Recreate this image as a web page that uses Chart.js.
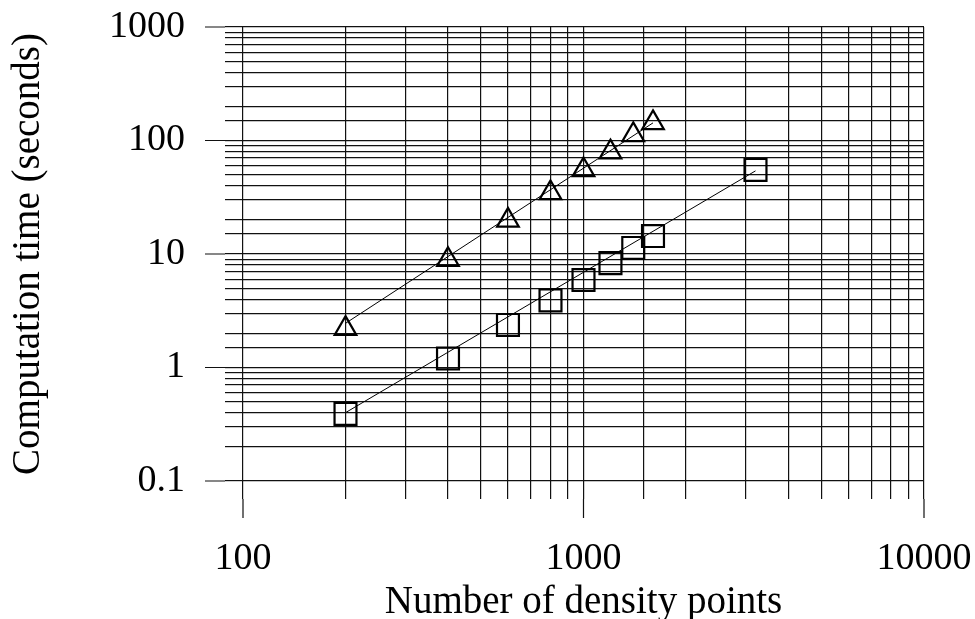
<!DOCTYPE html>
<html>
<head>
<meta charset="utf-8">
<script src="https://cdn.jsdelivr.net/npm/chart.js@4/dist/chart.umd.min.js"></script>
<style>
	body { margin: 0; background: #fff; }
	#wrap { width: 975px; height: 619px; }
</style>
</head>
<body>
<div id="wrap"><canvas id="chart" width="975" height="619"></canvas></div>
<script>
// values
const triangleX = [200, 400, 600, 800, 1000, 1200, 1400, 1600]
const triangleY = [2.2, 8.9, 19.8, 34.5, 55, 79, 112, 143]
const squareX = [200, 400, 600, 800, 1000, 1200, 1400, 1600, 3200]
const squareY = [0.39, 1.2, 2.37, 3.9, 5.9, 8.3, 11.3, 14.4, 55]
// straight fit lines drawn through each set
const triangleFitX = [200, 1600]
const triangleFitY = [2.45, 143]
const squareFitX = [200, 3200]
const squareFitY = [0.4, 54]

const xTickLabels = [100, 1000, 10000]
const yTickLabels = [0.1, 1, 10, 100, 1000]

const serif = "'Liberation Serif', 'Times New Roman', serif"

const toPoints = (xs, ys) => xs.map((x, i) => ({ x: x, y: ys[i] }))
const isLabel = (list, v) => list.some(t => Math.abs(t - v) / t < 1e-6)

// the decade lines stick out further than the other grid lines
const longTicks = {
	id: "longTicks",
	afterDraw(chart) {
		const ctx = chart.ctx
		const area = chart.chartArea
		ctx.save()
		ctx.strokeStyle = "#111"
		ctx.lineWidth = 1.2
		ctx.beginPath()
		chart.scales.x.ticks.forEach(t => {
			if (!isLabel(xTickLabels, t.value)) return
			const px = chart.scales.x.getPixelForValue(t.value)
			ctx.moveTo(px, area.bottom + 18)
			ctx.lineTo(px, area.bottom + 37)
		})
		chart.scales.y.ticks.forEach(t => {
			if (!isLabel(yTickLabels, t.value)) return
			const py = chart.scales.y.getPixelForValue(t.value)
			ctx.moveTo(area.left - 18, py)
			ctx.lineTo(area.left - 38, py)
		})
		ctx.stroke()
		ctx.restore()
	},
}

const grid = {
	color: "#111",
	lineWidth: 1.2,
	tickLength: 18,
	tickColor: "#111",
	tickWidth: 1.2,
}

new Chart(document.getElementById("chart"), {
	type: "scatter",
	data: {
		datasets: [
			{
				data: toPoints(triangleFitX, triangleFitY),
				showLine: true,
				borderColor: "#000",
				borderWidth: 1,
				pointRadius: 0,
			},
			{
				data: toPoints(squareFitX, squareFitY),
				showLine: true,
				borderColor: "#000",
				borderWidth: 1,
				pointRadius: 0,
			},
			{
				data: toPoints(triangleX, triangleY),
				pointStyle: "triangle",
				pointRadius: 12.5,
				borderColor: "#000",
				borderWidth: 2.2,
				backgroundColor: "rgba(0,0,0,0)",
			},
			{
				data: toPoints(squareX, squareY),
				pointStyle: "rect",
				pointRadius: 15.5,
				borderColor: "#000",
				borderWidth: 2.2,
				backgroundColor: "rgba(0,0,0,0)",
			},
		],
	},
	options: {
		responsive: false,
		animation: false,
		layout: {
			padding: { left: 0, top: 27, right: 51, bottom: 0 },
		},
		plugins: {
			legend: { display: false },
			tooltip: { enabled: false },
		},
		scales: {
			x: {
				type: "logarithmic",
				min: 100,
				max: 10000,
				border: { display: false },
				grid: grid,
				afterFit: scale => {
					scale.height = 138
					scale.paddingLeft = 0
					scale.paddingRight = 0
				},
				ticks: {
					autoSkip: false,
					maxRotation: 0,
					padding: 37,
					color: "#000",
					font: { family: serif, size: 38 },
					callback: v => isLabel(xTickLabels, v) ? String(v) : "",
				},
				title: {
					display: true,
					text: "Number of density points",
					color: "#000",
					font: { family: serif, size: 39, lineHeight: 0.85 },
					padding: { top: 0, bottom: 0 },
				},
			},
			y: {
				type: "logarithmic",
				min: 0.1,
				max: 1000,
				border: { display: false },
				grid: grid,
				afterFit: scale => {
					scale.width = 243
					scale.paddingTop = 0
					scale.paddingBottom = 0
				},
				ticks: {
					autoSkip: false,
					padding: 40,
					color: "#000",
					font: { family: serif, size: 38 },
					callback: v => isLabel(yTickLabels, v) ? String(v) : "",
				},
				title: {
					display: true,
					text: "Computation time (seconds)",
					color: "#000",
					font: { family: serif, size: 39 },
					padding: { top: 5, bottom: 0 },
				},
			},
		},
	},
	plugins: [longTicks],
})
</script>
</body>
</html>
